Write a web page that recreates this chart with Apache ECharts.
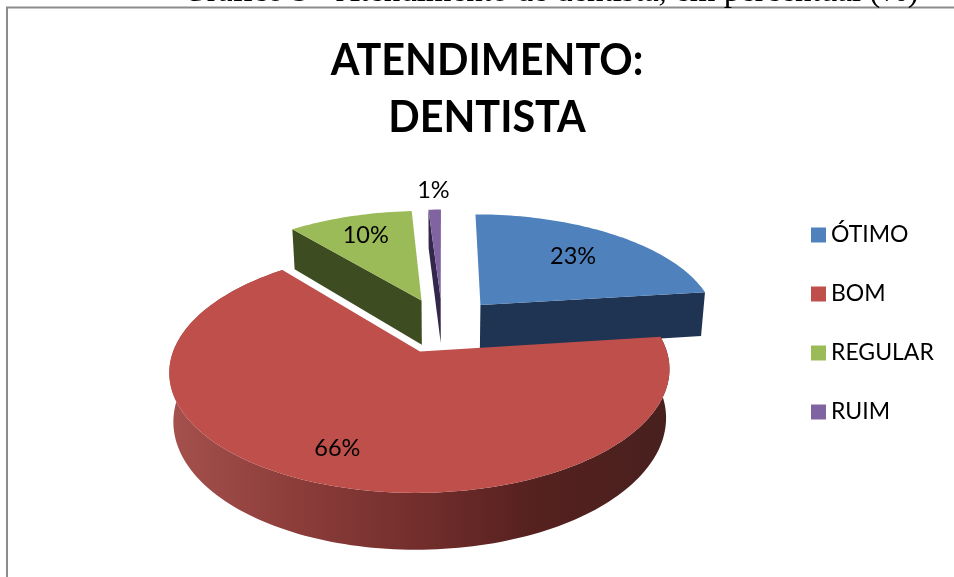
<!DOCTYPE html>
<html><head><meta charset="utf-8">
<style>html,body{margin:0;padding:0;background:#fff}#c{width:954px;height:577px}</style>
<script src="https://cdn.jsdelivr.net/npm/echarts@6/dist/echarts.min.js"></script>
</head><body><div id="c"></div>
<script>
const categories = ['ÓTIMO', 'BOM', 'REGULAR', 'RUIM'];
const values = [23, 66, 10, 1];
const percentLabels = ['23%', '66%', '10%', '1%'];
const topColors = ['#4F81BD', '#BE4F4B', '#9BBB59', '#8064A2'];
const wallColors = ['#1F3352', '#7A3331', '#3E4D21', '#33284A'];
const labelRadius = [0.67, 0.775, 0.755, 1.25];
const drawOrder = [2, 3, 0, 1];
const titleLines = 'ATENDIMENTO:\nDENTISTA';
const captionText = 'Gráfico 5 - Atendimento de dentista, em percentual (%)';

// perspective model of the tilted, exploded disc
const view = { cx: 442.5, cy: 325, k: 238, q: 110.4, p: 0.155, explode: 0.248, depth: 46, shrink: 0.985 };
const total = values.reduce((a, b) => a + b, 0);
const starts = []; values.reduce((acc, v, i) => { starts[i] = acc; return acc + v; }, 0);
const rad = v => v / total * Math.PI * 2;

function project(U, V, lower) {
  const den = 1 + view.p * V;
  const x = view.k * U / den, y = -view.q * V / den;
  if (!lower) return [view.cx + x, view.cy + y];
  return [view.cx + x * view.shrink, view.cy + y + view.depth / den];
}
function apex(i) {
  const m = rad(starts[i] + values[i] / 2);
  return [view.explode * Math.sin(m), view.explode * Math.cos(m)];
}
function rim(i, t, r) {
  const a = apex(i);
  return [a[0] + r * Math.sin(t), a[1] + r * Math.cos(t)];
}
function arc(i, lower) {
  const t0 = rad(starts[i]), t1 = rad(starts[i] + values[i]);
  const n = Math.max(4, Math.round((t1 - t0) * 40));
  const pts = [];
  for (let s = 0; s <= n; s++) {
    const u = rim(i, t0 + (t1 - t0) * s / n, 1);
    pts.push(project(u[0], u[1], lower));
  }
  return pts;
}
const poly = (points, fill) => ({ type: 'polygon', shape: { points }, style: { fill }, silent: true });

function renderSlice(i) {
  const a = apex(i);
  const top = arc(i, false), bottom = arc(i, true);
  const A = project(a[0], a[1], false), Ab = project(a[0], a[1], true);
  const children = [];
  if (i === 1) {
    const wall = top.concat(bottom.slice().reverse());
    const fill = new echarts.graphic.LinearGradient(170, 0, 671, 0, [
      { offset: 0, color: '#A5514D' }, { offset: 0.25, color: '#8C3D3A' },
      { offset: 0.5, color: '#722E2C' }, { offset: 0.72, color: '#56211F' },
      { offset: 1, color: '#47201E' }], true);
    children.push(poly(wall, fill));
  } else {
    // the cut face that looks at the viewer
    const edge = i === 0 ? top[top.length - 1] : top[0];
    const edgeB = i === 0 ? bottom[bottom.length - 1] : bottom[0];
    children.push(poly([A, edge, edgeB, Ab], wallColors[i]));
  }
  children.push(poly([A].concat(top), topColors[i]));
  const mid = rad(starts[i] + values[i] / 2);
  const l = rim(i, mid, labelRadius[i]);
  const L = project(l[0], l[1], false);
  children.push({
    type: 'text', x: L[0], y: L[1], silent: true, z2: 100,
    style: { text: percentLabels[i], fill: '#000', font: '23.5px Lato', align: 'center', verticalAlign: 'middle' }
  });
  return { type: 'group', children };
}

const chart = echarts.init(document.getElementById('c'), null, { renderer: 'canvas' });
chart.setOption({
  animation: false,
  backgroundColor: '#fff',
  legend: {
    orient: 'vertical', left: 811, top: 221, padding: 0, icon: 'rect', itemWidth: 15, itemHeight: 15, itemGap: 31,
    selectedMode: false, data: categories,
    textStyle: { fontFamily: 'Lato', fontSize: 23, color: '#000', lineHeight: 28 }
  },
  graphic: [
    { type: 'rect', shape: { x: 7, y: 7.5, width: 960, height: 600 }, style: { fill: 'none', stroke: '#8c8c8c', lineWidth: 2 }, silent: true, z: -1 },
    { type: 'text', x: 183, y: -24.5, silent: true, style: { text: captionText, fill: '#000', font: '33px "Liberation Serif"' } },
    { type: 'text', x: 487, y: 32, scaleX: 0.94, silent: true,
      style: { text: titleLines, fill: '#000', font: 'bold 44px Lato', lineHeight: 57, align: 'center', verticalAlign: 'top' } }
  ],
  series: drawOrder.map(i => ({
    type: 'custom', name: categories[i], coordinateSystem: 'none',
    itemStyle: { color: topColors[i] }, z: 2 + drawOrder.indexOf(i),
    data: [values[i]], renderItem: () => renderSlice(i)
  }))
});
</script></body></html>
